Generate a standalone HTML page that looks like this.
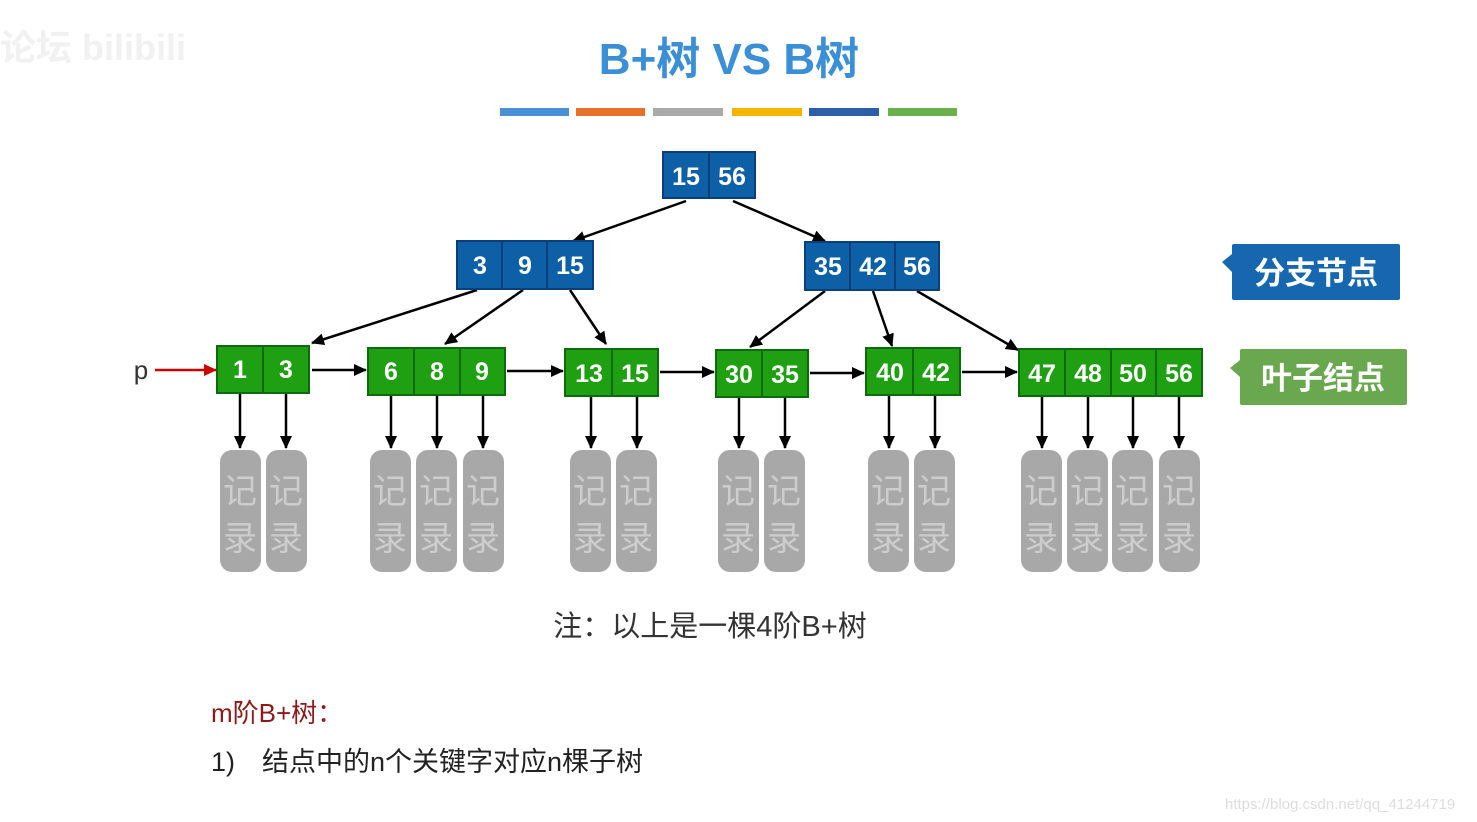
<!DOCTYPE html>
<html><head><meta charset="utf-8"><style>
html,body{margin:0;padding:0;background:#fff;}
svg{display:block}
</style></head><body>
<svg width="1477" height="822" viewBox="0 0 1477 822" xmlns="http://www.w3.org/2000/svg" font-family="Liberation Sans, Noto Sans CJK SC, sans-serif">
<defs>
<marker id="ah" markerWidth="13" markerHeight="12" refX="12" refY="6" orient="auto" markerUnits="userSpaceOnUse"><path d="M0,0 L13,6 L0,12 z" fill="#000"/></marker>
<marker id="ahr" markerWidth="13" markerHeight="12" refX="12" refY="6" orient="auto" markerUnits="userSpaceOnUse"><path d="M0,0 L13,6 L0,12 z" fill="#c00"/></marker>
</defs>
<text x="0" y="60" font-size="36" fill="#f1f1f1" font-weight="bold">论坛 bilibili</text>
<text x="729" y="74" text-anchor="middle" font-size="44" font-weight="bold" fill="#3b8fd6">B+树 VS B树</text>
<rect x="500" y="108" width="69" height="8" fill="#4a90d9"/>
<rect x="576" y="108" width="69" height="8" fill="#e8702a"/>
<rect x="653" y="108" width="70" height="8" fill="#aaaaaa"/>
<rect x="732" y="108" width="70" height="8" fill="#f5b400"/>
<rect x="809" y="108" width="70" height="8" fill="#2f5ea8"/>
<rect x="888" y="108" width="69" height="8" fill="#6ab04c"/>

<g stroke="#000" stroke-width="2.5" marker-end="url(#ah)">
<line x1="686" y1="201" x2="573" y2="241"/>
<line x1="733" y1="201" x2="825" y2="241"/>
<line x1="477" y1="290" x2="312" y2="343"/>
<line x1="523" y1="290" x2="445" y2="344"/>
<line x1="570" y1="290" x2="606" y2="344"/>
<line x1="825" y1="291" x2="750" y2="347"/>
<line x1="873" y1="291" x2="892" y2="346"/>
<line x1="917" y1="291" x2="1018" y2="350"/>
<line x1="312" y1="370" x2="366" y2="370"/>
<line x1="507" y1="371" x2="563" y2="371"/>
<line x1="660" y1="372" x2="714" y2="372"/>
<line x1="810" y1="373" x2="864" y2="373"/>
<line x1="962" y1="372" x2="1017" y2="372"/>
<line x1="240" y1="393" x2="240" y2="448"/><line x1="286" y1="393" x2="286" y2="448"/>
<line x1="391" y1="395" x2="391" y2="448"/><line x1="437" y1="395" x2="437" y2="448"/><line x1="483" y1="395" x2="483" y2="448"/>
<line x1="591" y1="396" x2="591" y2="448"/><line x1="637" y1="396" x2="637" y2="448"/>
<line x1="739" y1="397" x2="739" y2="448"/><line x1="785" y1="397" x2="785" y2="448"/>
<line x1="889" y1="395" x2="889" y2="448"/><line x1="935" y1="395" x2="935" y2="448"/>
<line x1="1042" y1="396" x2="1042" y2="448"/><line x1="1088" y1="396" x2="1088" y2="448"/><line x1="1133" y1="396" x2="1133" y2="448"/><line x1="1179" y1="396" x2="1179" y2="448"/>
</g>
<line x1="155" y1="370" x2="216" y2="370" stroke="#c00" stroke-width="2.5" marker-end="url(#ahr)"/>
<text x="141" y="379" text-anchor="middle" font-size="26" fill="#333">p</text>

<g stroke-width="2" font-size="25" font-weight="bold" fill="#fff" text-anchor="middle">
<g stroke="#0a3f7a"><rect x="663" y="152" width="46" height="46" fill="#0d5fa6"/><rect x="709" y="152" width="46" height="46" fill="#0d5fa6"/>
<rect x="457" y="241" width="45" height="48" fill="#0d5fa6"/><rect x="502" y="241" width="45" height="48" fill="#0d5fa6"/><rect x="547" y="241" width="46" height="48" fill="#0d5fa6"/>
<rect x="805" y="242" width="45" height="48" fill="#0d5fa6"/><rect x="850" y="242" width="45" height="48" fill="#0d5fa6"/><rect x="895" y="242" width="44" height="48" fill="#0d5fa6"/></g>
<g stroke="none"><text x="686" y="185">15</text><text x="732" y="185">56</text>
<text x="480" y="274">3</text><text x="525" y="274">9</text><text x="570" y="274">15</text>
<text x="828" y="275">35</text><text x="873" y="275">42</text><text x="917" y="275">56</text></g>
<g stroke="#0d6b0d" fill="#1fa012">
<rect x="217" y="346" width="46" height="47"/><rect x="263" y="346" width="46" height="47"/>
<rect x="368" y="348" width="46" height="47"/><rect x="414" y="348" width="46" height="47"/><rect x="460" y="348" width="45" height="47"/>
<rect x="565" y="349" width="47" height="47"/><rect x="612" y="349" width="46" height="47"/>
<rect x="716" y="350" width="46" height="47"/><rect x="762" y="350" width="46" height="47"/>
<rect x="866" y="348" width="47" height="47"/><rect x="913" y="348" width="47" height="47"/>
<rect x="1019" y="349" width="46" height="47"/><rect x="1065" y="349" width="46" height="47"/><rect x="1111" y="349" width="45" height="47"/><rect x="1156" y="349" width="46" height="47"/>
</g>
<g stroke="none">
<text x="240" y="378">1</text><text x="286" y="378">3</text>
<text x="391" y="380">6</text><text x="437" y="380">8</text><text x="482" y="380">9</text>
<text x="589" y="382">13</text><text x="635" y="382">15</text>
<text x="739" y="383">30</text><text x="785" y="383">35</text>
<text x="890" y="381">40</text><text x="936" y="381">42</text>
<text x="1042" y="382">47</text><text x="1088" y="382">48</text><text x="1133" y="382">50</text><text x="1179" y="382">56</text>
</g>
</g>

<g fill="#a8a8a8">
<rect x="220" y="450" width="41" height="122" rx="12"/><rect x="266" y="450" width="41" height="122" rx="12"/>
<rect x="370" y="450" width="41" height="122" rx="12"/><rect x="416" y="450" width="41" height="122" rx="12"/><rect x="463" y="450" width="41" height="122" rx="12"/>
<rect x="570" y="450" width="41" height="122" rx="12"/><rect x="616" y="450" width="41" height="122" rx="12"/>
<rect x="718" y="450" width="41" height="122" rx="12"/><rect x="764" y="450" width="41" height="122" rx="12"/>
<rect x="868" y="450" width="41" height="122" rx="12"/><rect x="914" y="450" width="41" height="122" rx="12"/>
<rect x="1021" y="450" width="41" height="122" rx="12"/><rect x="1067" y="450" width="41" height="122" rx="12"/><rect x="1112" y="450" width="41" height="122" rx="12"/><rect x="1159" y="450" width="41" height="122" rx="12"/>
</g>
<g fill="#cdcdcd" font-size="34" text-anchor="middle">
<text x="240" y="503">记</text><text x="240" y="550">录</text><text x="286" y="503">记</text><text x="286" y="550">录</text>
<text x="390" y="503">记</text><text x="390" y="550">录</text><text x="436" y="503">记</text><text x="436" y="550">录</text><text x="483" y="503">记</text><text x="483" y="550">录</text>
<text x="590" y="503">记</text><text x="590" y="550">录</text><text x="636" y="503">记</text><text x="636" y="550">录</text>
<text x="738" y="503">记</text><text x="738" y="550">录</text><text x="784" y="503">记</text><text x="784" y="550">录</text>
<text x="888" y="503">记</text><text x="888" y="550">录</text><text x="934" y="503">记</text><text x="934" y="550">录</text>
<text x="1041" y="503">记</text><text x="1041" y="550">录</text><text x="1087" y="503">记</text><text x="1087" y="550">录</text><text x="1132" y="503">记</text><text x="1132" y="550">录</text><text x="1179" y="503">记</text><text x="1179" y="550">录</text>
</g>

<path d="M1234,244 H1398 a2,2 0 0 1 2,2 V298 a2,2 0 0 1 -2,2 H1234 a2,2 0 0 1 -2,-2 V272 L1222,262 L1232,254 V246 a2,2 0 0 1 2,-2z" fill="#1767b0"/>
<text x="1316" y="284" text-anchor="middle" font-size="31" font-weight="bold" fill="#fff">分支节点</text>
<path d="M1242,349 H1405 a2,2 0 0 1 2,2 V403 a2,2 0 0 1 -2,2 H1242 a2,2 0 0 1 -2,-2 V377 L1230,368 L1240,360 V351 a2,2 0 0 1 2,-2z" fill="#6aa84f"/>
<text x="1323" y="389" text-anchor="middle" font-size="31" font-weight="bold" fill="#fff">叶子结点</text>

<text x="710" y="636" text-anchor="middle" font-size="29" fill="#333">注：以上是一棵4阶B+树</text>
<text x="211" y="722" font-size="26" fill="#8b1a1a">m阶B+树：</text>
<text x="211" y="771" font-size="27" fill="#222">1)　结点中的n个关键字对应n棵子树</text>
<text x="1225" y="809" font-size="15" fill="#ddd">https://blog.csdn.net/qq_41244719</text>
</svg>
</body></html>
